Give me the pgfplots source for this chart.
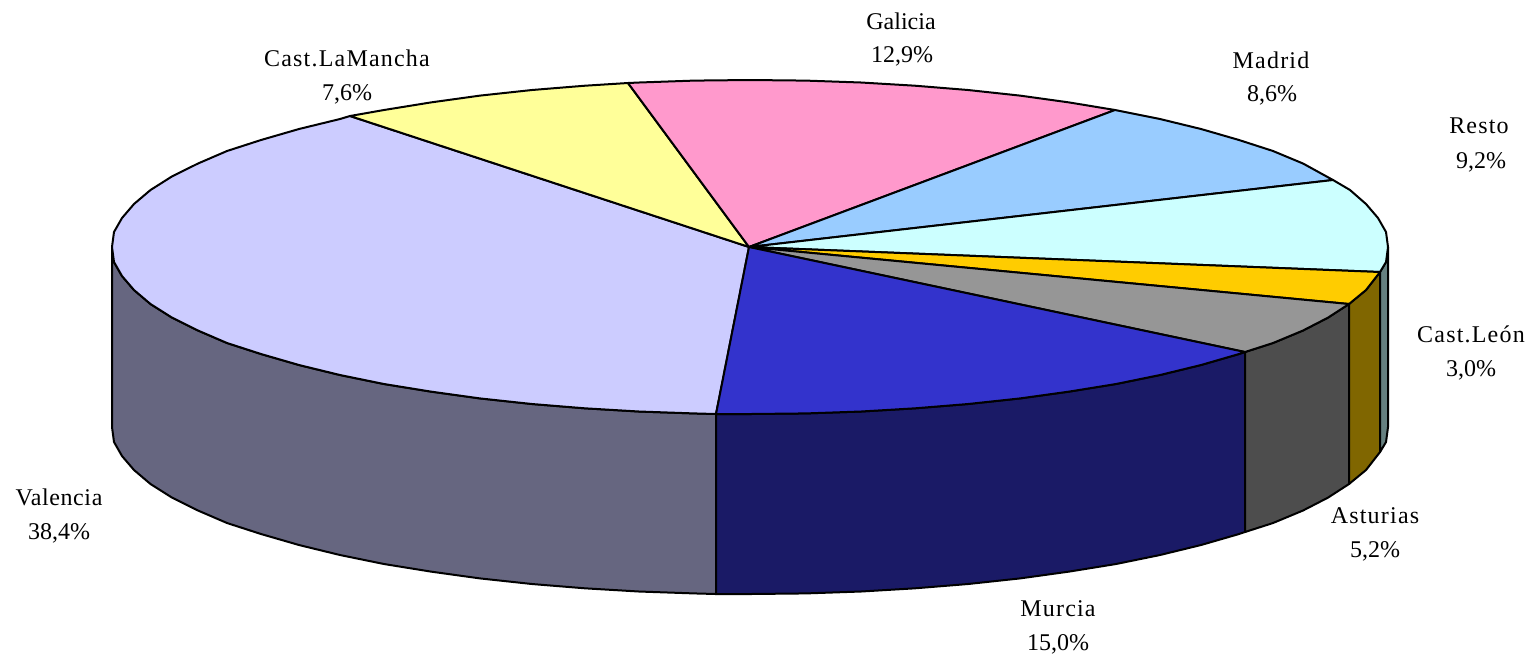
\documentclass[border=0pt]{standalone}
\usepackage{fontspec}
\setmainfont{Liberation Serif}
\newfontfamily\wide[LetterSpace=5]{Liberation Serif}
\newfontfamily\midw[LetterSpace=2.5]{Liberation Serif}
\usepackage{pgfplots}
\pgfplotsset{compat=1.18}

\definecolor{valtop}{HTML}{CCCCFF}
\definecolor{valside}{HTML}{666680}
\definecolor{clmtop}{HTML}{FFFF99}
\definecolor{galtop}{HTML}{FF99CC}
\definecolor{madtop}{HTML}{99CCFF}
\definecolor{restop}{HTML}{CCFFFF}
\definecolor{resside}{HTML}{668080}
\definecolor{leotop}{HTML}{FFCC00}
\definecolor{leoside}{HTML}{806600}
\definecolor{asttop}{HTML}{969696}
\definecolor{astside}{HTML}{4D4D4D}
\definecolor{murtop}{HTML}{3333CC}
\definecolor{murside}{HTML}{1A1A66}

\tikzset{
  pct/.style={anchor=base, inner sep=0pt, font=\fontsize{12}{14}\selectfont},
  nam/.style={anchor=base, inner sep=0pt, font=\fontsize{12}{14}\wide},
}

\begin{document}
\begin{tikzpicture}
  \begin{axis}[
    scale only axis, width=766.5pt, height=327.5pt,
    xmin=0, xmax=1533, ymin=0, ymax=655, y dir=reverse,
    hide axis, clip=false,
    every axis plot/.append style={draw=black, line width=1pt, line join=round},
  ]
    % hide axis drops the frame from the page size, so keep it here
    \path (axis cs:0,0) rectangle (axis cs:1533,655);

    % side walls, pixel positions of the reference
    \addplot[fill=valside] coordinates {
      (112,247) (114,262) (122,276) (134,290) (150.5,304) (172,317.6) (198,330.5) (227,343)
      (261,354) (299,365) (340,375) (384,384) (431,391.6) (480,398.4) (532,404) (585,408.3)
      (639,411.5) (694,413.4) (716,414)
      (716,594) (694,593.4) (639,591.5) (585,588.3) (532,584) (480,578.4) (431,571.6)
      (384,564) (340,555) (299,545) (261,534) (227,523) (198,510.5) (172,497.6) (150.5,484)
      (134,470) (122,456) (114,442) (112,427)} -- cycle;
    \addplot[fill=murside] coordinates {
      (716,414) (750,414) (806,413.4) (861,411.5) (915,408.3) (968,404) (1020,398.4)
      (1069,391.6) (1116,384) (1160,375) (1201,365) (1239,354) (1245,352)
      (1245,532) (1239,534) (1201,545) (1160,555) (1116,564) (1069,571.6) (1020,578.4)
      (968,584) (915,588.3) (861,591.5) (806,593.4) (750,594) (716,594)} -- cycle;
    \addplot[fill=astside] coordinates {
      (1245,352) (1273,343) (1303,330.5) (1328,317.6) (1349,304)
      (1349,484) (1328,497.6) (1303,510.5) (1273,523) (1245,532)} -- cycle;
    \addplot[fill=leoside] coordinates {
      (1349,304) (1366,290) (1380,272)
      (1380,452) (1366,470) (1349,484)} -- cycle;
    \addplot[fill=resside] coordinates {
      (1380,272) (1386,262) (1388,247)
      (1388,427) (1386,442) (1380,452)} -- cycle;

    % top faces
    \addplot[fill=valtop] coordinates {
      (749,247) (716,414) (694,413.4) (639,411.5) (585,408.3) (532,404) (480,398.4) (431,391.6)
      (384,384) (340,375) (299,365) (261,354) (227,343) (198,330.5) (172,317.6) (150.5,304)
      (134,290) (122,276) (114,262) (112,247) (114,232) (122,218) (134,204) (150.5,190)
      (172,176.4) (198,163.5) (227,151) (261,140) (299,129) (340,119) (350,116)} -- cycle;
    \addplot[fill=clmtop] coordinates {
      (749,247) (350,116) (384,110) (431,102.4) (480,95.6) (532,90) (585,85.7) (628,83)} -- cycle;
    \addplot[fill=galtop] coordinates {
      (749,247) (628,83) (639,82.5) (694,80.6) (750,80) (806,80.6) (861,82.5) (915,85.7)
      (968,90) (1020,95.6) (1069,102.4) (1115,110)} -- cycle;
    \addplot[fill=madtop] coordinates {
      (749,247) (1115,110) (1160,119) (1201,129) (1239,140) (1273,151) (1303,163.5) (1333,180)} -- cycle;
    \addplot[fill=restop] coordinates {
      (749,247) (1333,180) (1350,190) (1366,204) (1378,218) (1386,232) (1388,247)
      (1386,262) (1380,272)} -- cycle;
    \addplot[fill=leotop] coordinates {
      (749,247) (1380,272) (1366,290) (1349,304)} -- cycle;
    \addplot[fill=asttop] coordinates {
      (749,247) (1349,304) (1328,317.6) (1303,330.5) (1273,343) (1245,352)} -- cycle;
    \addplot[fill=murtop] coordinates {
      (749,247) (1245,352) (1239,354) (1201,365) (1160,375) (1116,384) (1069,391.6) (1020,398.4)
      (968,404) (915,408.3) (861,411.5) (806,413.4) (750,414) (716,414)} -- cycle;

    % data labels
    \node[pct] at (axis cs:901,29) {Galicia};
    \node[pct] at (axis cs:902,62) {12,9\%};
    \node[nam] at (axis cs:347,66) {Cast.LaMancha};
    \node[pct] at (axis cs:347,100) {7,6\%};
    \node[nam] at (axis cs:1271,68) {Madrid};
    \node[pct] at (axis cs:1272,101) {8,6\%};
    \node[nam] at (axis cs:1479,133) {Resto};
    \node[pct] at (axis cs:1481,168) {9,2\%};
    \node[nam] at (axis cs:1471,342) {Cast.León};
    \node[pct] at (axis cs:1471,376) {3,0\%};
    \node[nam] at (axis cs:1375,523) {Asturias};
    \node[pct] at (axis cs:1375,557) {5,2\%};
    \node[nam] at (axis cs:1058,616) {Murcia};
    \node[pct] at (axis cs:1058,650) {15,0\%};
    \node[nam, font=\fontsize{12}{14}\midw] at (axis cs:59,505) {Valencia};
    \node[pct] at (axis cs:59,539) {38,4\%};
  \end{axis}
\end{tikzpicture}
\end{document}
